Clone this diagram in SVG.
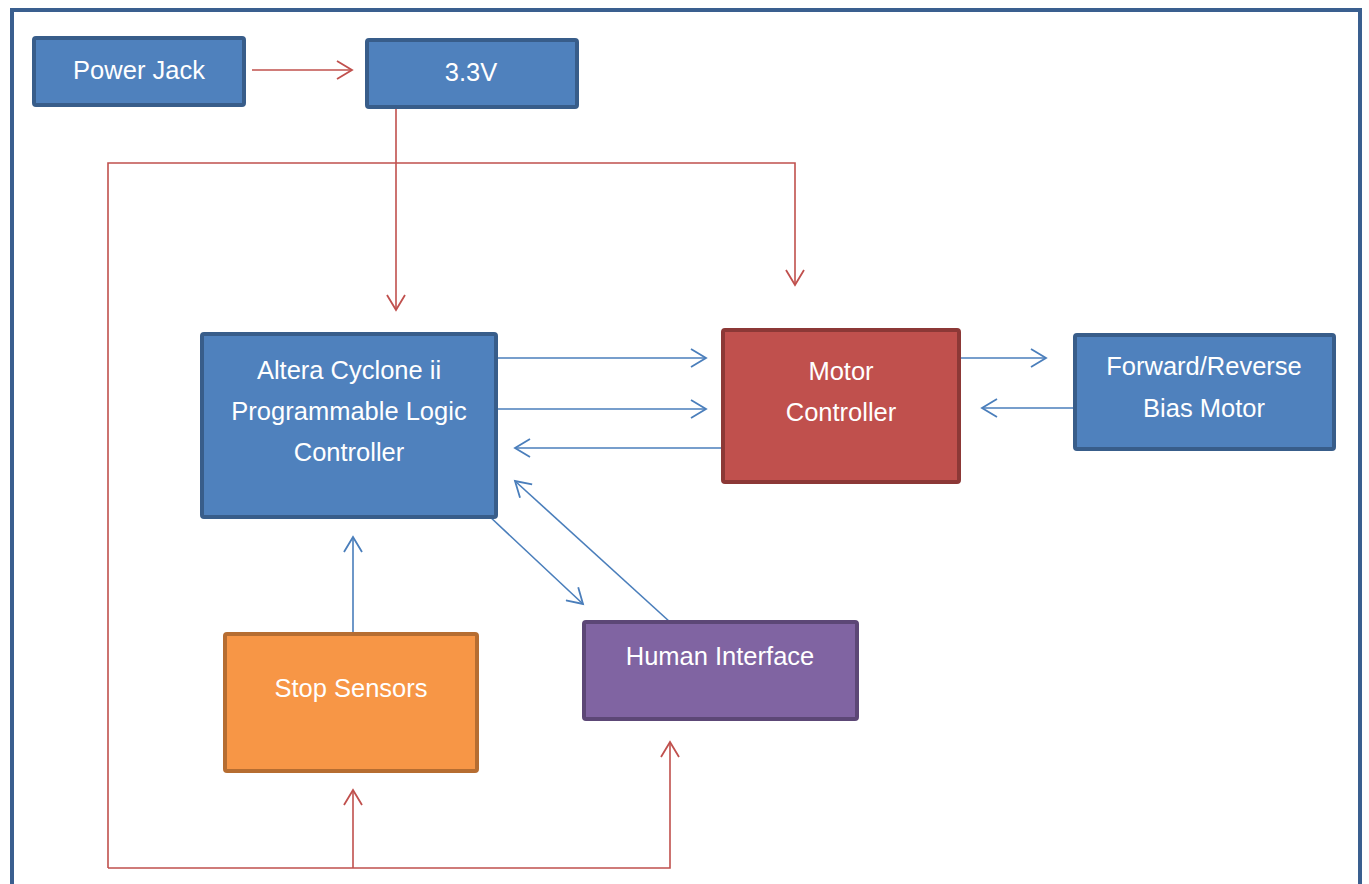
<svg xmlns="http://www.w3.org/2000/svg" width="1369" height="884" viewBox="0 0 1369 884">
<defs>
<style>
.lbl{font-family:"Liberation Sans",Arial,sans-serif;font-size:25.5px;fill:#ffffff;text-anchor:middle}
.box{stroke-width:4}
.blue{fill:#4F81BD;stroke:#385D8A}
.red{fill:#C0504D;stroke:#8C3836}
.orange{fill:#F79646;stroke:#B66D31}
.purple{fill:#8064A2;stroke:#5C4776}
.pw{fill:none;stroke:#C0504D;stroke-width:1.6}
.sig{fill:none;stroke:#4A7EBB;stroke-width:1.6}
</style>
<marker id="ar" viewBox="0 0 20 20" refX="16" refY="10" markerWidth="20" markerHeight="20" markerUnits="userSpaceOnUse" orient="auto">
<path d="M1,1 L16,10 L1,19" fill="none" stroke="#C0504D" stroke-width="1.8"/>
</marker>
<marker id="ab" viewBox="0 0 20 20" refX="16" refY="10" markerWidth="20" markerHeight="20" markerUnits="userSpaceOnUse" orient="auto">
<path d="M1,1 L16,10 L1,19" fill="none" stroke="#4A7EBB" stroke-width="1.8"/>
</marker>
</defs>
<rect width="1369" height="884" fill="#ffffff"/>
<rect x="12" y="10" width="1348" height="900" fill="none" stroke="#3A5F8F" stroke-width="4"/>
<g id="connectors">
<path class="pw" d="M252,70 H352" marker-end="url(#ar)"/>
<path class="pw" d="M396,107 V310" marker-end="url(#ar)"/>
<path class="pw" d="M108,868 V163 H795 V285" marker-end="url(#ar)"/>
<path class="pw" d="M108,868 H670 V742" marker-end="url(#ar)"/>
<path class="pw" d="M353,868 V790" marker-end="url(#ar)"/>
<path class="sig" d="M498,358 H706" marker-end="url(#ab)"/>
<path class="sig" d="M498,409 H706" marker-end="url(#ab)"/>
<path class="sig" d="M723,448 H515" marker-end="url(#ab)"/>
<path class="sig" d="M959,358 H1046" marker-end="url(#ab)"/>
<path class="sig" d="M1110,408 H982" marker-end="url(#ab)"/>
<path class="sig" d="M488,515 L583,604" marker-end="url(#ab)"/>
<path class="sig" d="M670,622 L515,481" marker-end="url(#ab)"/>
<path class="sig" d="M353,632 V537" marker-end="url(#ab)"/>
</g>
<g id="power-jack">
<rect class="box blue" x="34" y="38" width="210" height="67" rx="2"/>
<text class="lbl" x="139" y="79">Power Jack</text>
</g>
<g id="v33">
<rect class="box blue" x="367" y="40" width="210" height="67" rx="2"/>
<text class="lbl" x="471" y="81">3.3V</text>
</g>
<g id="altera">
<rect class="box blue" x="202" y="334" width="294" height="183" rx="2"/>
<text class="lbl" x="349" y="379">Altera Cyclone ii</text>
<text class="lbl" x="349" y="420">Programmable Logic</text>
<text class="lbl" x="349" y="461">Controller</text>
</g>
<g id="motor-controller">
<rect class="box red" x="723" y="330" width="236" height="152" rx="2"/>
<text class="lbl" x="841" y="380">Motor</text>
<text class="lbl" x="841" y="421">Controller</text>
</g>
<g id="bias-motor">
<rect class="box blue" x="1075" y="335" width="259" height="114" rx="2"/>
<text class="lbl" x="1204" y="375">Forward/Reverse</text>
<text class="lbl" x="1204" y="417">Bias Motor</text>
</g>
<g id="stop-sensors">
<rect class="box orange" x="225" y="634" width="252" height="137" rx="2"/>
<text class="lbl" x="351" y="697">Stop Sensors</text>
</g>
<g id="human-interface">
<rect class="box purple" x="584" y="622" width="273" height="97" rx="2"/>
<text class="lbl" x="720" y="665">Human Interface</text>
</g>
</svg>
